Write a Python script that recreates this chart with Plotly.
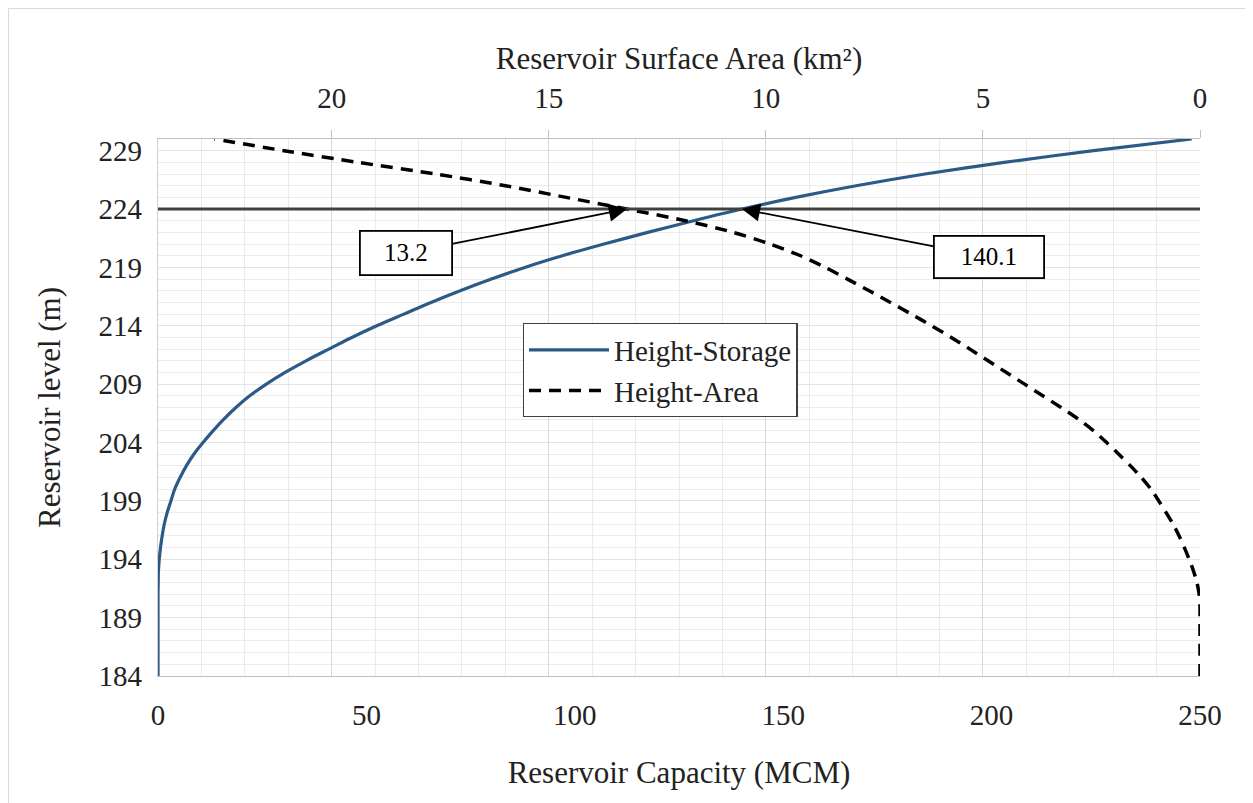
import plotly.graph_objects as go

# Reservoir level (m)
levels = [184, 185, 186, 187, 188, 189, 190, 191, 192, 193, 194, 195, 196, 197, 198, 199,
          200, 201, 202, 203, 204, 205, 206, 207, 208, 209, 210, 211, 212, 213, 214, 215,
          216, 217, 218, 219, 220, 221, 222, 223, 224, 225, 226, 227, 228, 229, 230]
# Reservoir capacity (MCM)
storage = [0, 0, 0, 0, 0, 0, 0, 0, 0.05, 0.1, 0.3, 0.6, 1.0, 1.5, 2.2, 3.1,
           4.0, 5.3, 6.8, 8.6, 10.8, 13.2, 15.8, 18.7, 22.0, 26.0, 30.5, 35.5, 41.0, 46.5, 52.5, 59.0,
           65.5, 72.5, 80.0, 88.0, 97.0, 107.0, 117.5, 128.5, 140.1, 153.0, 167.5, 184.0, 203.0, 224.5, 248.0]
# Reservoir surface area (km2)
area = [0, 0, 0, 0, 0, 0, 0, 0.02, 0.07, 0.15, 0.25, 0.36, 0.48, 0.62, 0.78, 0.95,
        1.13, 1.35, 1.6, 1.87, 2.15, 2.45, 2.8, 3.2, 3.62, 4.04, 4.46, 4.88, 5.3, 5.73, 6.18, 6.65,
        7.13, 7.62, 8.12, 8.63, 9.2, 9.9, 10.75, 11.85, 13.2, 14.6, 16.0, 17.6, 19.4, 21.1, 22.7]

ref_level = 224
ref_area = 13.2
ref_storage = 140.1

FONT = "Liberation Serif"
TXT = "#222222"

fig = go.Figure()
fig.add_trace(go.Scatter(
    x=storage, y=levels, name="Height-Storage", mode="lines", xaxis="x", yaxis="y",
    line=dict(color="#2B5A87", width=3.2, shape="spline", smoothing=0.8),
))
fig.add_trace(go.Scatter(
    x=area, y=levels, name="Height-Area", mode="lines", xaxis="x2", yaxis="y",
    line=dict(color="black", width=3.5, dash="12px,8px", shape="spline", smoothing=0.8),
))

# horizontal reference line at level 224
fig.add_shape(type="line", xref="paper", yref="y", x0=0, x1=1, y0=ref_level, y1=ref_level,
              line=dict(color="#404040", width=3), layer="above")

# outer chart border
fig.add_shape(type="rect", xref="paper", yref="paper",
              x0=-0.1435, x1=1.0499, y0=-0.246, y1=1.243,
              line=dict(color="#d9d9d9", width=1), fillcolor="rgba(0,0,0,0)", layer="below")

ann_common = dict(showarrow=True, arrowhead=2, arrowsize=2, arrowwidth=1.8, arrowcolor="black",
                  font=dict(family=FONT, size=25, color="black"),
                  bordercolor="black", borderwidth=1.8, bgcolor="white", align="center",
                  axref="pixel", ayref="pixel")
fig.add_annotation(x=ref_area, y=ref_level, xref="x2", yref="y", text=str(ref_area),
                   ax=-221, ay=44, width=88, height=40, **ann_common)
fig.add_annotation(x=ref_storage, y=ref_level, xref="x", yref="y", text=str(ref_storage),
                   ax=247, ay=48, width=106, height=38, **ann_common)

fig.update_layout(
    width=1245, height=795,
    margin=dict(l=150, r=53, t=131, b=127),
    paper_bgcolor="white", plot_bgcolor="white",
    font=dict(family=FONT, size=29, color=TXT),
    showlegend=True,
    legend=dict(x=0.350, y=0.657, xanchor="left", yanchor="top",
                bgcolor="white", bordercolor="#404040", borderwidth=1.3,
                font=dict(family=FONT, size=29, color=TXT),
                tracegroupgap=0, itemwidth=80),
    xaxis=dict(
        range=[0, 250], dtick=50, tick0=0, showgrid=False, zeroline=False,
        showline=True, linecolor="#bfbfbf", linewidth=1.3, ticks="",
        ticklabelstandoff=13,
        tickfont=dict(family=FONT, size=29, color=TXT),
        title=dict(text="Reservoir Capacity (MCM)", standoff=31,
                   font=dict(family=FONT, size=31, color=TXT)),
    ),
    xaxis2=dict(
        overlaying="x", side="top", anchor="y",
        range=[24, 0], dtick=5, tick0=0,
        showgrid=True, gridcolor="#d9d9d9", gridwidth=1,
        minor=dict(dtick=1, tick0=0, showgrid=True, gridcolor="#ebebeb", gridwidth=1),
        zeroline=False, showline=True, linecolor="#bfbfbf", linewidth=1.3,
        ticks="outside", ticklen=8, tickcolor="#bfbfbf",
        ticklabelstandoff=10,
        tickfont=dict(family=FONT, size=29, color=TXT),
        title=dict(text="Reservoir Surface Area (km²)", standoff=3,
                   font=dict(family=FONT, size=31, color=TXT)),
    ),
    yaxis=dict(
        range=[184, 230], dtick=5, tick0=184,
        showgrid=True, gridcolor="#e4e4e4", gridwidth=1,
        minor=dict(dtick=1, tick0=184, showgrid=True, gridcolor="#ebebeb", gridwidth=1),
        zeroline=False, showline=True, linecolor="#d0d0d0", linewidth=1.3, ticks="",
        ticklabelstandoff=9,
        tickfont=dict(family=FONT, size=29, color=TXT),
        title=dict(text="Reservoir level (m)", standoff=28,
                   font=dict(family=FONT, size=31, color=TXT)),
    ),
)

fig.write_html("out.html")
